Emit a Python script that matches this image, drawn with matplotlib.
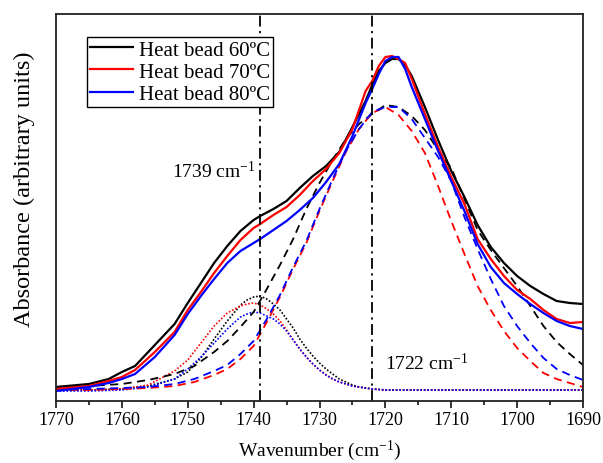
import matplotlib
matplotlib.use("Agg")
import matplotlib.pyplot as plt
from matplotlib.ticker import MultipleLocator

plt.rcParams['font.family'] = ['Liberation Serif', 'DejaVu Serif']
plt.rcParams['mathtext.fontset'] = 'custom'
plt.rcParams['mathtext.rm'] = 'Liberation Serif'
plt.rcParams['mathtext.it'] = 'Liberation Serif:italic'

# ---- data (arbitrary absorbance units) ----
wn_solid = [1770, 1765, 1762, 1760, 1758, 1755, 1752, 1750, 1748, 1746, 1744, 1742,
            1740, 1739, 1737, 1735, 1733, 1731, 1729, 1727, 1725, 1723, 1722, 1721,
            1720, 1719, 1718, 1717, 1716, 1714, 1712, 1710, 1708, 1706, 1704, 1702,
            1700, 1698, 1696, 1694, 1692, 1690]
abs_60 = [14, 17, 22, 29, 35, 56, 77, 98, 118, 138, 155, 170, 181, 185, 192, 200, 213,
          225, 235, 249, 274, 300, 316, 330, 338, 342, 342, 336, 325, 294, 261, 230,
          204, 176, 154, 138, 125, 115, 107, 100, 98, 97]
abs_70 = [12, 15, 20, 24, 31, 49, 69, 91, 109, 128, 145, 161, 173, 177, 186, 194, 206,
          220, 232, 248, 272, 310, 320, 335, 344, 345, 342, 338, 322, 287, 254, 224,
          197, 162, 142, 125, 111, 102, 91, 82, 78, 79]
abs_80 = [10, 14, 18, 22, 27, 44, 66, 87, 105, 122, 138, 150, 158, 162, 171, 180, 191,
          203, 219, 237, 265, 298, 312, 327, 340, 344, 344, 332, 314, 282, 250, 220,
          190, 157, 134, 118, 107, 97, 88, 80, 75, 72]

wn_band1722 = [1770, 1765, 1760, 1756, 1752, 1749, 1746, 1744, 1742, 1740, 1738, 1736,
               1734, 1732, 1730, 1728, 1726, 1724, 1722, 1720, 1718, 1716, 1714, 1712,
               1710, 1708, 1706, 1704, 1702, 1700, 1698, 1696, 1694, 1692, 1690]
band1722_60 = [14, 15, 17, 21, 27, 35, 49, 60, 74, 89, 112, 136, 162, 192, 218, 241, 262,
               277, 287, 296, 294, 285, 271, 251, 233, 202, 171, 151, 133, 115, 95, 75,
               59, 47, 36]
band1722_70 = [11, 11, 12, 13, 15, 19, 26, 32, 42, 55, 79, 104, 132, 158, 190, 220, 249,
               272, 288, 294, 286, 270, 248, 215, 180, 147, 115, 91, 70, 53, 40, 28, 22,
               18, 14]
band1722_80 = [11, 12, 13, 14, 17, 22, 30, 36, 47, 60, 82, 106, 134, 160, 192, 222, 250,
               272, 289, 294, 294, 282, 263, 244, 220, 184, 152, 122, 95, 75, 58, 43, 32,
               26, 21]

wn_band1739 = [1770, 1765, 1760, 1756, 1752, 1750, 1748, 1746, 1744, 1742, 1741, 1740,
               1739, 1738, 1737, 1736, 1735, 1734, 1733, 1732, 1731, 1730, 1729, 1728,
               1727, 1726, 1725, 1724, 1722, 1720, 1710, 1700, 1690]
band1739_60 = [11, 11, 12, 15, 22, 29, 43, 62, 80, 96, 101, 104, 105, 102, 97, 91, 82,
               73, 62, 53, 45, 38, 32, 27, 22, 19, 16, 14, 12, 11, 11, 11, 11]
band1739_70 = [11, 11, 12, 16, 30, 41, 58, 75, 88, 95, 97, 98, 96, 92, 87, 80, 71, 61,
               52, 44, 37, 31, 26, 22, 19, 17, 15, 14, 12, 11, 11, 11, 11]
band1739_80 = [10, 10, 11, 14, 22, 32, 44, 58, 72, 84, 87, 89, 88, 85, 82, 77, 70, 61,
               52, 44, 37, 31, 26, 22, 19, 17, 15, 14, 12, 11, 11, 11, 11]

labels = ['Heat bead 60ºC', 'Heat bead 70ºC', 'Heat bead 80ºC']
colors = ['black', 'red', 'blue']
peak_lines = [1739, 1722]
x_ticks = [1770, 1760, 1750, 1740, 1730, 1720, 1710, 1700, 1690]

# ---- figure ----
fig = plt.figure(figsize=(6.03, 4.64), dpi=100)
ax = fig.add_axes([56/603, 1-402/464, 527/603, 387/464])

for y, c in zip([band1739_60, band1739_70, band1739_80], colors):
    ax.plot(wn_band1739, y, color=c, lw=1.2, ls=(0, (1, 1.1)))
for y, c in zip([band1722_60, band1722_70, band1722_80], colors):
    ax.plot(wn_band1722, y, color=c, lw=1.3, ls=(0, (4.5, 3)))
for y, c, l in zip([abs_60, abs_70, abs_80], colors, labels):
    ax.plot(wn_solid, y, color=c, lw=1.6, label=l)

for xv in peak_lines:
    ax.axvline(xv, color='black', lw=1.3, ls=(0, (6, 2.5, 1.2, 2.5)))

ax.text(1752.4, 224, '1739 cm$^{-1}$', fontsize=14, ha='left', va='baseline')
ax.text(1720.1, 32, '1722 cm$^{-1}$', fontsize=14, ha='left', va='baseline')

ax.set_xlim(1770, 1690)
ax.set_ylim(0, 387)
ax.set_xticks(x_ticks)
ax.xaxis.set_minor_locator(MultipleLocator(5))
ax.set_yticks([])
ax.tick_params(axis='x', which='major', direction='out', length=5, width=1.1,
               labelsize=13, pad=2.5)
ax.tick_params(axis='x', which='minor', direction='out', length=3, width=1.1)
for s in ax.spines.values():
    s.set_linewidth(1.3)
    s.set_color('#222222')

ax.set_xlabel('Wavenumber (cm$^{-1}$)', fontsize=14, labelpad=7)
ax.set_ylabel('Absorbance (arbitrary units)', fontsize=17.5)
ax.yaxis.set_label_coords(-0.04, 0.55)

leg = ax.legend(loc='upper left', bbox_to_anchor=(31/527, (402-38)/387),
                borderaxespad=0, fontsize=15, handlelength=2.05, handletextpad=0.3,
                borderpad=0.15, labelspacing=0.12, fancybox=False, framealpha=1)
leg.get_frame().set_edgecolor('black')
leg.get_frame().set_linewidth(1.0)

fig.savefig('out.png', dpi=100)
